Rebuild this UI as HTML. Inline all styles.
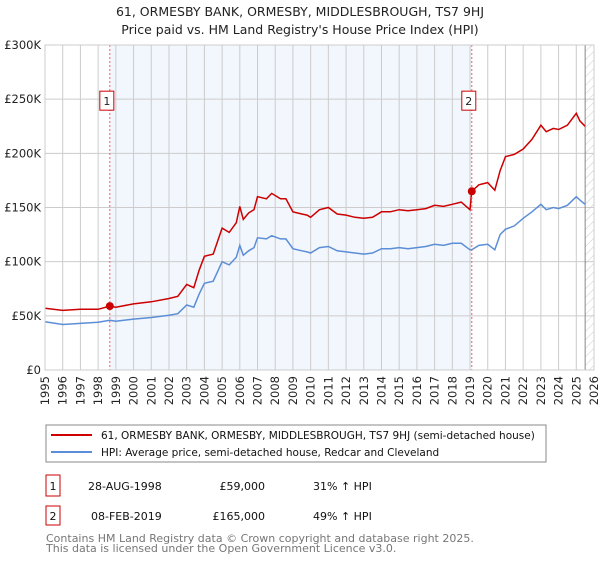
<!DOCTYPE html>
<html><head><meta charset="utf-8"><style>
body{margin:0;background:#fff;font-family:"DejaVu Sans","Liberation Sans",sans-serif;}
svg text{font-family:"DejaVu Sans","Liberation Sans",sans-serif;}
</style></head><body>
<svg id="chart" width="600" height="560" xmlns="http://www.w3.org/2000/svg">
<defs><pattern id="hatch" width="6" height="6" patternUnits="userSpaceOnUse" patternTransform="rotate(45)"><line x1="0" y1="0" x2="0" y2="6" stroke="#ccc" stroke-width="1"/></pattern></defs>
<text x="300" y="16" text-anchor="middle" font-size="12.5" fill="#222">61, ORMESBY BANK, ORMESBY, MIDDLESBROUGH, TS7 9HJ</text>
<text x="300" y="34" text-anchor="middle" font-size="12.5" fill="#222">Price paid vs. HM Land Registry's House Price Index (HPI)</text>
<g id="grid"></g><g id="marks"></g><g id="axes"></g>
<g>
<rect x="46" y="425" width="500" height="37" fill="#fff" stroke="#888"/>
<line x1="51" y1="435" x2="92" y2="435" stroke="#cc0000" stroke-width="2"/>
<text x="101" y="439" font-size="10.5" fill="#111">61, ORMESBY BANK, ORMESBY, MIDDLESBROUGH, TS7 9HJ (semi-detached house)</text>
<line x1="51" y1="452" x2="92" y2="452" stroke="#5b8ed6" stroke-width="2"/>
<text x="101" y="456" font-size="10.5" fill="#111">HPI: Average price, semi-detached house, Redcar and Cleveland</text>
</g>
<g font-size="11" fill="#111">
<rect x="46" y="475" width="14" height="21" fill="#fff" stroke="#cc0000"/><text x="53" y="490" text-anchor="middle">1</text>
<text x="88" y="490">28-AUG-1998</text><text x="265" y="490" text-anchor="end">£59,000</text><text x="313" y="490">31% ↑ HPI</text>
<rect x="46" y="506" width="14" height="19" fill="#fff" stroke="#cc0000"/><text x="53" y="520" text-anchor="middle">2</text>
<text x="91" y="520">08-FEB-2019</text><text x="265" y="520" text-anchor="end">£165,000</text><text x="313" y="520">49% ↑ HPI</text>
</g>
<text x="46" y="542" font-size="11" fill="#777">Contains HM Land Registry data © Crown copyright and database right 2025.</text>
<text x="46" y="552" font-size="11" fill="#777">This data is licensed under the Open Government Licence v3.0.</text>
</svg>
<script>
const years=[1995,1996,1997,1998,1998.66,1999,2000,2001,2002,2002.5,2003,2003.4,2003.7,2004,2004.5,2005,2005.4,2005.8,2006,2006.2,2006.5,2006.8,2007,2007.5,2007.8,2008.3,2008.6,2009,2009.5,2009.8,2010,2010.5,2011,2011.5,2012,2012.5,2013,2013.5,2014,2014.5,2015,2015.5,2016,2016.5,2017,2017.5,2018,2018.5,2019,2019.1,2019.5,2020,2020.4,2020.7,2021,2021.5,2022,2022.5,2023,2023.3,2023.7,2024,2024.5,2025,2025.2,2025.5];
const hpiValues=[44.5,42,43,44,46,45,47,48.5,50.5,52,60,58,70,80,82,100,97,104,115,106,110,113,122,121,124,121,121,112,110,109,108,113,114,110,109,108,107,108,112,112,113,112,113,114,116,115,117,117,111,111,115,116,111,125,130,133,140,146,153,148,150,149,152,160,157,153];
const priceValues=[57,55,56,56,59,58,61,63,66,68,79,76,92,105,107,131,127,136,151,139,145,148,160,158,163,158,158,146,144,143,141,148,150,144,143,141,140,141,146,146,148,147,148,149,152,151,153,155,148,165,171,173,166,184,197,199,204,213,226,220,223,222,226,237,230,225];
const saleYears=[1998.66,2019.1];
const saleValues=[59,165];
const saleLabels=["1","2"];
const yTicks=[0,50,100,150,200,250,300];
const yTickLabels=["£0","£50K","£100K","£150K","£200K","£250K","£300K"];
const xTicks=[1995,1996,1997,1998,1999,2000,2001,2002,2003,2004,2005,2006,2007,2008,2009,2010,2011,2012,2013,2014,2015,2016,2017,2018,2019,2020,2021,2022,2023,2024,2025,2026];
const X0=45,X1=594,Y0=370,Y1=45;
const xs=y=>X0+(y-1995)/(2026-1995)*(X1-X0);
const ys=v=>Y0-v/300*(Y0-Y1);
const NS="http://www.w3.org/2000/svg";
function mk(p,t,a){const e=document.createElementNS(NS,t);for(const k in a)e.setAttribute(k,a[k]);p.appendChild(e);return e;}
const grid=document.getElementById('grid'),marks=document.getElementById('marks'),axes=document.getElementById('axes');
const bg=mk(grid,'rect',{x:X0,y:Y1,width:X1-X0,height:Y0-Y1,fill:'#fff'});


const sh=mk(grid,'rect',{x:xs(saleYears[0]),y:Y1,width:xs(saleYears[1])-xs(saleYears[0]),height:Y0-Y1,fill:'#eef3fc',opacity:0.75});


const ht=mk(grid,'rect',{x:xs(2025.5),y:Y1,width:X1-xs(2025.5),height:Y0-Y1,fill:'url(#hatch)'});


xTicks.forEach(t=>{const l=mk(grid,'line',{x1:xs(t),x2:xs(t),y1:Y1,y2:Y0,stroke:'#ccc','stroke-width':1});


const tx=mk(axes,'text',{x:0,y:0,'font-size':11.5,fill:'#222','text-anchor':'end',transform:`translate(${xs(t)+4},${Y0+6}) rotate(-90)`});tx.textContent=t;

});
yTicks.forEach((t,i)=>{const l=mk(grid,'line',{x1:X0,x2:X1,y1:ys(t),y2:ys(t),stroke:'#ccc','stroke-width':1});


const tx=mk(axes,'text',{x:X0-4,y:ys(t)+4,'font-size':11.5,fill:'#222','text-anchor':'end'});tx.textContent=yTickLabels[i];

});
const vl=mk(grid,'line',{x1:xs(2025.5),x2:xs(2025.5),y1:Y1,y2:Y0,stroke:'#888','stroke-width':1});


const pathOf=v=>years.map((y,i)=>(i?'L':'M')+xs(y).toFixed(1)+','+ys(v[i]).toFixed(1)).join('');
const hp=mk(marks,'path',{d:pathOf(hpiValues),fill:'none',stroke:'#5b8ed6','stroke-width':1.5});


const pp=mk(marks,'path',{d:pathOf(priceValues),fill:'none',stroke:'#cc0000','stroke-width':1.5});


saleYears.forEach((y,i)=>{
const d=mk(marks,'line',{x1:xs(y),x2:xs(y),y1:Y1,y2:Y0,stroke:'#f06060','stroke-width':1,'stroke-dasharray':'2,2'});


const c=mk(marks,'circle',{cx:xs(y),cy:ys(saleValues[i]),r:4,fill:'#cc0000'});


const b=mk(marks,'rect',{x:xs(y)-10,y:ys(250)-8,width:14,height:19,fill:'#fff',stroke:'#cc0000'});


const t=mk(marks,'text',{x:xs(y)-3,y:ys(250)+6,'font-size':11,'text-anchor':'middle',fill:'#222'});t.textContent=saleLabels[i];

});
const fr=mk(axes,'rect',{x:X0,y:Y1,width:X1-X0,height:Y0-Y1,fill:'none',stroke:'#ccc'});


</script>
</body></html>
